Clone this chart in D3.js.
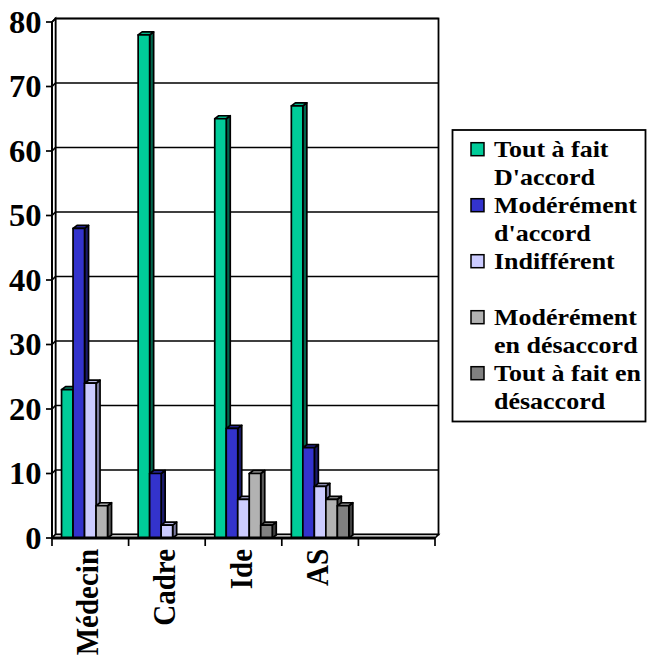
<!DOCTYPE html>
<html>
<head>
<meta charset="utf-8">
<script src="https://cdn.jsdelivr.net/npm/d3@7"></script>
<style>
  body { margin: 0; background: #fff; }
</style>
</head>
<body>
<svg id="chart" width="648" height="663"></svg>
<script>
// Survey answers (%) by professional group
const categories = ["Médecin", "Cadre", "Ide", "AS", ""];
const toutAFaitAccord     = [23, 78, 65, 67];
const moderementAccord    = [48, 10, 17, 14];
const indifferent         = [24, 2, 6, 8];
const moderementDesaccord = [5, 0, 10, 6];
const toutAFaitDesaccord  = [0, 0, 2, 5];
const yTicks = [0, 10, 20, 30, 40, 50, 60, 70, 80];
const legendLabels = [
  ["Tout à fait", "D'accord"],
  ["Modérément", "d'accord"],
  ["Indifférent", ""],
  ["Modérément", "en désaccord"],
  ["Tout à fait en", "désaccord"]
];

const series = [toutAFaitAccord, moderementAccord, indifferent, moderementDesaccord, toutAFaitDesaccord];
const frontColors = ["#00CC99", "#3333CC", "#CCCCFF", "#B2B2B2", "#808080"];
const topColors   = ["#00B386", "#2E2EB8", "#B8B8E6", "#A0A0A0", "#737373"];
const sideColors  = ["#00664D", "#1A1A6B", "#7A7A9E", "#5C5C5C", "#404040"];
const FONT = "Liberation Serif";

const svg = d3.select("#chart");

const left = 52, right = 435;
const x0 = d3.scaleBand().domain(categories).range([left, right]);
const x1 = d3.scaleBand().domain(d3.range(series.length))
  .range([0, x0.bandwidth()]).paddingInner(0).paddingOuter(0.83);
const y = d3.scaleLinear().domain([0, 80]).range([538, 22]);

const wd = 3.5;           // depth of the walls
const bdx = 4, bdy = 3;   // depth of the columns
const line = d3.line();

function label(sel) {
  return sel.append("text")
    .attr("font-family", FONT)
    .attr("font-weight", "bold")
    .attr("fill", "#000");
}

// walls and floor
const g = svg.append("g");
g.append("rect")
  .attr("x", left + wd).attr("y", y(80) - wd)
  .attr("width", right - left).attr("height", y(0) - y(80))
  .attr("fill", "#fff").attr("stroke", "#000").attr("stroke-width", 1.8);
g.append("path")
  .attr("d", line([[left, y(0)], [left, y(80)], [left + wd, y(80) - wd], [left + wd, y(0) - wd]]) + "Z")
  .attr("fill", "#fff").attr("stroke", "#000").attr("stroke-width", 1.6);
g.append("path")
  .attr("d", line([[left, y(0)], [right, y(0)], [right + wd, y(0) - wd], [left + wd, y(0) - wd]]) + "Z")
  .attr("fill", "#fff").attr("stroke", "#000").attr("stroke-width", 1.6);

// gridlines on back and side walls
yTicks.filter(v => v > 0).forEach(v => {
  g.append("path")
    .attr("d", line([[left, y(v)], [left + wd, y(v) - wd], [right + wd, y(v) - wd]]))
    .attr("fill", "none").attr("stroke", "#000").attr("stroke-width", 1.7);
});

// columns
categories.forEach((cat, ci) => {
  series.forEach((vals, si) => {
    const v = vals[ci];
    if (!(v > 0)) return;
    const x = x0(cat) + x1(si);
    const w = x1.bandwidth();
    const t = y(v), b = y(0);
    const bar = g.append("g").attr("stroke", "#000").attr("stroke-width", 1.7).attr("stroke-linejoin", "round");
    bar.append("path")
      .attr("d", line([[x + w, t], [x + w + bdx, t - bdy], [x + w + bdx, b - bdy], [x + w, b]]) + "Z")
      .attr("fill", sideColors[si]);
    bar.append("path")
      .attr("d", line([[x, t], [x + bdx, t - bdy], [x + w + bdx, t - bdy], [x + w, t]]) + "Z")
      .attr("fill", topColors[si]);
    bar.append("rect")
      .attr("x", x).attr("y", t).attr("width", w).attr("height", b - t)
      .attr("fill", frontColors[si]);
  });
});

// value axis
const ax = svg.append("g");
ax.append("line").attr("x1", left).attr("x2", left).attr("y1", y(80)).attr("y2", y(0))
  .attr("stroke", "#000").attr("stroke-width", 2);
yTicks.forEach(v => {
  ax.append("line").attr("x1", left - 6).attr("x2", left).attr("y1", y(v)).attr("y2", y(v))
    .attr("stroke", "#000").attr("stroke-width", 1.7);
  label(ax)
    .attr("transform", `translate(41.5,${y(v)}) scale(1.05,1)`)
    .attr("text-anchor", "end").attr("dy", "0.34em")
    .attr("font-size", 31)
    .text(v);
});

// category axis
ax.append("line").attr("x1", left).attr("x2", right).attr("y1", y(0)).attr("y2", y(0))
  .attr("stroke", "#000").attr("stroke-width", 2.8);
categories.map(c => x0(c)).concat([right]).forEach(px => {
  ax.append("line").attr("x1", px).attr("x2", px).attr("y1", y(0)).attr("y2", y(0) + 8)
    .attr("stroke", "#000").attr("stroke-width", 1.7);
});
categories.forEach(c => {
  if (!c) return;
  const cx = x0(c) + x0.bandwidth() / 2 + 8;
  label(ax)
    .attr("transform", `translate(${cx},549) scale(1.1,1) rotate(-90)`)
    .attr("text-anchor", "end")
    .attr("font-size", 29)
    .text(c);
});

// legend
const lg = svg.append("g");
lg.append("rect").attr("x", 452.5).attr("y", 130).attr("width", 193).attr("height", 291.5)
  .attr("fill", "#fff").attr("stroke", "#000").attr("stroke-width", 1.8);
const lineH = 28, firstBase = 156.7;
legendLabels.forEach((lines, i) => {
  const base = firstBase + i * 2 * lineH;
  lg.append("rect").attr("x", 471).attr("y", base - 14).attr("width", 13).attr("height", 13)
    .attr("fill", frontColors[i]).attr("stroke", "#000").attr("stroke-width", 1.5);
  lines.forEach((txt, k) => {
    if (!txt) return;
    label(lg)
      .attr("transform", `translate(494,${base + k * lineH}) scale(1.13,1)`)
      .attr("font-size", 23)
      .text(txt);
  });
});
</script>
</body>
</html>
